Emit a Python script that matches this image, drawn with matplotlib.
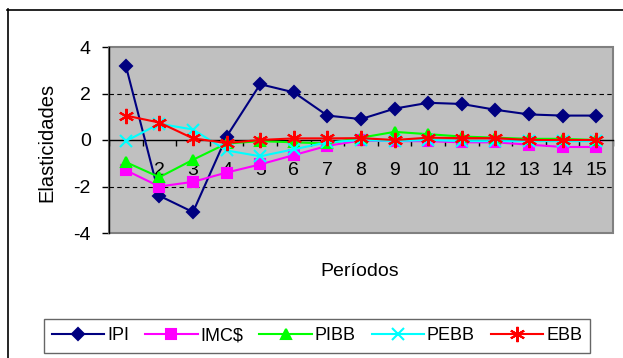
import matplotlib
matplotlib.use("Agg")
import matplotlib.pyplot as plt
from matplotlib.lines import Line2D
from matplotlib.patches import Rectangle

plt.rcParams['font.family'] = ['Liberation Sans', 'DejaVu Sans']

periodos = list(range(1, 16))
ipi = [3.2, -2.4, -3.1, 0.15, 2.4, 2.05, 1.05, 0.9, 1.35, 1.6, 1.55, 1.3, 1.1, 1.05, 1.05]
imc = [-1.3, -2.0, -1.8, -1.4, -1.05, -0.65, -0.25, -0.02, -0.05, -0.05, -0.1, -0.1, -0.2, -0.3, -0.3]
pibb = [-0.95, -1.6, -0.85, -0.15, -0.05, -0.1, -0.15, 0.1, 0.35, 0.25, 0.15, 0.1, 0.05, 0.05, 0.0]
pebb = [-0.05, 0.7, 0.45, -0.45, -0.7, -0.4, -0.1, 0.0, -0.05, 0.0, -0.05, -0.05, -0.05, -0.05, -0.05]
ebb = [1.05, 0.75, 0.07, -0.13, 0.0, 0.07, 0.07, 0.08, 0.0, 0.1, 0.08, 0.08, 0.0, 0.0, 0.0]

series = [
    ("IPI", ipi, "#000080", "D", 6.5),
    ("IMC$", imc, "#FF00FF", "s", 7),
    ("PIBB", pibb, "#00FF00", "^", 7.5),
    ("PEBB", pebb, "#00FFFF", "x", 8.5),
    ("EBB", ebb, "#FF0000", (6, 2, 0), 11),
]

W, H = 623, 358
fig = plt.figure(figsize=(W / 100, H / 100), dpi=100)
ax = fig.add_axes([109 / W, 1 - 233 / H, 504 / W, 186 / H])
ax.set_facecolor("#C0C0C0")

for name, vals, color, marker, ms in series:
    ax.plot(periodos, vals, color=color, lw=1.5, marker=marker, markersize=ms,
            markeredgecolor=color, markeredgewidth=1.5, label=name, clip_on=False, zorder=3)

ax.set_xlim(0.5, 15.5)
ax.set_ylim(-4, 4)

for y in (2, -2):
    ax.axhline(y, color="black", lw=0.8, dashes=(4, 3), zorder=1)

# plot area frame
ax.add_patch(Rectangle((0, 0), 1, 1, transform=ax.transAxes, fill=False,
                       edgecolor="#808080", lw=1.5, zorder=2, clip_on=False))
for side in ("top", "right"):
    ax.spines[side].set_visible(False)
ax.spines["left"].set_color("black")
ax.spines["left"].set_linewidth(1.0)
ax.spines["left"].set_zorder(2.5)
ax.spines["bottom"].set_position(("data", 0))
ax.spines["bottom"].set_color("black")
ax.spines["bottom"].set_linewidth(1.0)

ax.set_yticks([-4, -2, 0, 2, 4])
ax.set_yticklabels(["-4", "-2", "0", "2", "4"])
ax.tick_params(axis="y", direction="out", length=5, width=1, pad=8, labelsize=14)

ax.set_xticks(periodos)
ax.set_xticklabels([str(p) for p in periodos])
ax.set_xticks([p + 0.5 for p in range(0, 16)], minor=True)
ax.tick_params(axis="x", which="major", length=0, pad=16, labelsize=14)
ax.tick_params(axis="x", which="minor", direction="out", length=4, width=1)

fig.text(47 / W, 1 - 142 / H, "Elasticidades", rotation=90, ha="center", va="center", fontsize=14.5)
fig.text(360 / W, 1 - 271 / H, "Períodos", ha="center", va="center", fontsize=14)

# outer chart border
fig.add_artist(Line2D([7.5 / W, 7.5 / W], [0, 1 - 9 / H], color="black", lw=1.2))
fig.add_artist(Line2D([7 / W, 1], [1 - 9.5 / H, 1 - 9.5 / H], color="black", lw=1.2))

leg = fig.legend(loc="center", bbox_to_anchor=(317 / W, 1 - 336 / H), ncol=5,
                 fontsize=13, frameon=True, fancybox=False, handlelength=2.9,
                 handletextpad=0.15, columnspacing=0.9, borderpad=0.45, borderaxespad=0)
leg.get_frame().set_edgecolor("#404040")
leg.get_frame().set_linewidth(1.0)

fig.savefig("out.png", dpi=100, facecolor="white")
